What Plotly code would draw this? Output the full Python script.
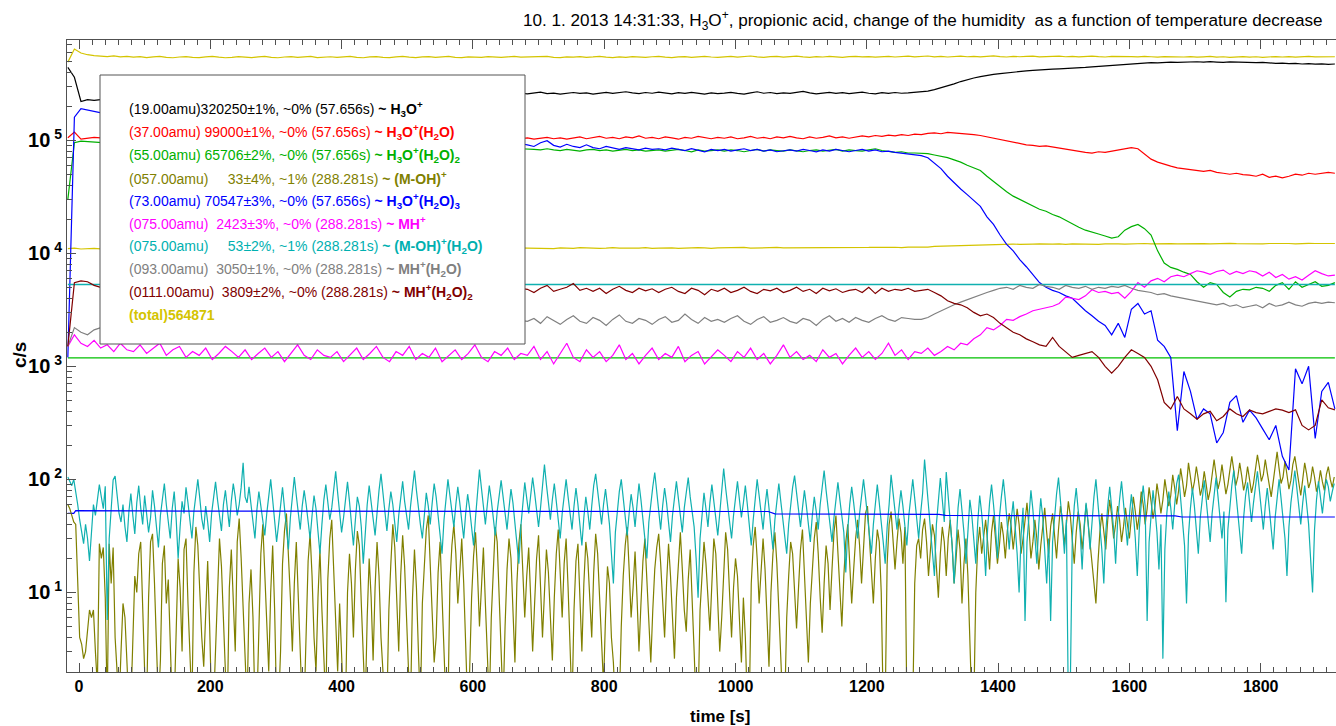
import plotly.graph_objects as go

# ---------------- data ----------------
main_t = list(range(-17, 1914, 10))     # sampling times of the smoother traces [s]
noisy_t = list(range(-17, 1914, 3))     # sampling times of the two weak, noisy traces [s]

total_cps = [
    490000, 640000, 590000, 570000, 560000, 552000, 548000, 556000, 545000, 550000,
    542000, 548000, 538000, 545000, 550000, 540000, 536000, 544000, 548000, 540000,
    538000, 545000, 550000, 542000, 536000, 540000, 548000, 543000, 538000, 546000,
    550000, 541000, 536000, 544000, 548000, 540000, 545000, 550000, 538000, 542000,
    547000, 539000, 543000, 551000, 540000, 536000, 545000, 548000, 541000, 538000,
    545000, 550000, 542000, 537000, 546000, 549000, 540000, 544000, 552000, 541000,
    538000, 546000, 543000, 540000, 548000, 544000, 539000, 545000, 550000, 542000,
    544000, 539000, 547000, 551000, 541000, 538000, 546000, 543000, 549000, 540000,
    545000, 552000, 543000, 538000, 546000, 541000, 548000, 544000, 539000, 547000,
    551000, 542000, 538000, 545000, 549000, 541000, 546000, 552000, 544000, 539000,
    546000, 550000, 543000, 547000, 555000, 545000, 540000, 548000, 551000, 543000,
    547000, 553000, 545000, 541000, 549000, 544000, 550000, 546000, 540000, 548000,
    552000, 545000, 549000, 543000, 547000, 551000, 544000, 548000, 553000, 546000,
    549000, 555000, 546000, 550000, 544000, 548000, 553000, 547000, 551000, 545000,
    550000, 556000, 548000, 544000, 552000, 547000, 551000, 554000, 546000, 550000,
    548000, 553000, 547000, 551000, 545000, 549000, 554000, 548000, 544000, 550000,
    552000, 546000, 549000, 545000, 551000, 547000, 543000, 549000, 545000, 548000,
    544000, 548000, 542000, 546000, 550000, 543000, 547000, 541000, 545000, 549000,
    543000, 547000, 541000, 545000, 549000, 544000, 548000, 542000, 546000, 550000,
    545000, 548000, 543000, 547000]

gold_low_cps = [
    11000, 11100, 10900, 11000, 11050, 10950, 11000, 11100, 10950, 11000,
    11050, 10950, 11100, 11000, 10900, 11050, 11000, 11100, 10950, 11050,
    11000, 11100, 10950, 11050, 11000, 10900, 11050, 11100, 11000, 10950,
    11100, 11000, 11050, 10950, 11100, 11000, 11050, 10950, 11100, 11000,
    11050, 11150, 11000, 11100, 11050, 10950, 11100, 11000, 11150, 11050,
    11000, 11100, 11150, 11050, 11000, 11100, 11050, 11150, 11000, 11100,
    11050, 11150, 11100, 11000, 11100, 11150, 11050, 11100, 11000, 11150,
    11100, 11050, 11150, 11100, 11000, 11150, 11100, 11050, 11200, 11100,
    11150, 11050, 11100, 11200, 11100, 11050, 11150, 11100, 11200, 11050,
    11100, 11200, 11150, 11050, 11150, 11100, 11200, 11150, 11050, 11150,
    11200, 11100, 11150, 11250, 11100, 11150, 11200, 11100, 11250, 11150,
    11150, 11250, 11200, 11100, 11200, 11150, 11250, 11200, 11150, 11250,
    11200, 11150, 11250, 11300, 11200, 11250, 11300, 11200, 11350, 11300,
    11400, 11350, 11500, 11550, 11600, 11700, 11750, 11800, 11850, 11900,
    11950, 11900, 12000, 11950, 12050, 12000, 11950, 12050, 12100, 12000,
    12050, 12100, 12000, 12100, 12050, 12150, 12100, 12000, 12100, 12150,
    12100, 12050, 12150, 12100, 12200, 12100, 12150, 12050, 12150, 12100,
    12150, 12100, 12200, 12150, 12100, 12200, 12150, 12250, 12150, 12100,
    12200, 12150, 12100, 12200, 12250, 12150, 12200, 12100, 12200, 12250,
    12200, 12150, 12250, 12200]

h3o_19 = [
    440000, 360000, 220000, 228000, 225000, 230000, 232000, 235000, 238000, 240000,
    238000, 242000, 240000, 245000, 243000, 247000, 245000, 248000, 246000, 250000,
    248000, 251000, 249000, 252000, 250000, 253000, 251000, 254000, 252000, 255000,
    253000, 256000, 254000, 257000, 255000, 258000, 256000, 258000, 257000, 259000,
    258000, 260000, 257000, 261000, 259000, 262000, 258000, 261000, 260000, 262000,
    259000, 263000, 260000, 262000, 258000, 261000, 263000, 259000, 262000, 260000,
    263000, 259000, 262000, 258000, 261000, 264000, 259000, 262000, 258000, 260000,
    257000, 262000, 266000, 258000, 261000, 255000, 260000, 264000, 259000, 262000,
    256000, 261000, 265000, 259000, 263000, 268000, 262000, 258000, 264000, 260000,
    266000, 261000, 257000, 263000, 259000, 265000, 260000, 256000, 262000, 258000,
    261000, 265000, 259000, 255000, 262000, 268000, 260000, 264000, 258000, 262000,
    259000, 263000, 270000, 262000, 257000, 261000, 265000, 259000, 263000, 258000,
    262000, 266000, 260000, 257000, 263000, 259000, 264000, 260000, 262000, 265000,
    268000, 272000, 280000, 290000, 302000, 315000, 330000, 345000, 355000, 365000,
    375000, 382000, 388000, 392000, 398000, 405000, 410000, 415000, 420000, 422000,
    425000, 428000, 430000, 435000, 438000, 440000, 445000, 450000, 455000, 460000,
    465000, 470000, 475000, 478000, 482000, 485000, 483000, 488000, 490000, 488000,
    492000, 489000, 494000, 490000, 495000, 491000, 488000, 493000, 490000, 494000,
    489000, 485000, 488000, 482000, 478000, 480000, 475000, 478000, 472000, 475000,
    470000, 473000, 468000, 472000]

h3o_h2o_37 = [
    105000, 118000, 102000, 104000, 106000, 105000, 104000, 106000, 105000, 107000,
    104000, 106000, 103000, 105000, 107000, 104000, 106000, 105000, 103000, 106000,
    106000, 104000, 107000, 105000, 103000, 106000, 104000, 105000, 107000, 104000,
    105000, 103000, 106000, 104000, 107000, 105000, 103000, 106000, 104000, 105000,
    107000, 104000, 106000, 103000, 105000, 107000, 104000, 106000, 105000, 103000,
    106000, 104000, 105000, 107000, 103000, 106000, 104000, 105000, 107000, 104000,
    105000, 107000, 103000, 106000, 104000, 105000, 107000, 104000, 106000, 103000,
    105000, 102000, 104000, 106000, 103000, 105000, 102000, 104000, 107000, 103000,
    105000, 108000, 104000, 106000, 103000, 107000, 105000, 109000, 104000, 106000,
    103000, 107000, 105000, 102000, 106000, 104000, 108000, 105000, 103000, 106000,
    104000, 107000, 103000, 105000, 108000, 104000, 106000, 103000, 107000, 105000,
    108000, 105000, 103000, 107000, 104000, 106000, 109000, 105000, 107000, 104000,
    106000, 109000, 107000, 110000, 108000, 111000, 109000, 112000, 110000, 113000,
    112000, 115000, 116000, 114000, 117000, 116000, 115000, 113000, 112000, 110000,
    107000, 105000, 102000, 99000, 96000, 93000, 91000, 90000, 88000, 89000,
    87000, 85000, 83000, 81000, 79000, 78000, 77000, 79000, 78000, 80000,
    81000, 83000, 86000, 84000, 76000, 68000, 64000, 61000, 59000, 57000,
    56000, 55000, 54000, 53000, 54000, 52000, 51000, 50000, 51000, 49500,
    49000, 48000, 50000, 47000, 48000, 46500, 48000, 50000, 49000, 51000,
    50000, 51000, 52000, 51000]

h3o_h2o2_55 = [
    30000, 95000, 98000, 97000, 96000, 95000, 94000, 93000, 93000, 92000,
    92000, 91000, 90000, 91000, 89000, 90000, 88000, 89000, 88000, 87000,
    88000, 87000, 86000, 87000, 86000, 85000, 86000, 85000, 84000, 85000,
    85000, 84000, 85000, 83000, 84000, 85000, 84000, 83000, 84000, 85000,
    84000, 83000, 85000, 84000, 83000, 84000, 85000, 83000, 84000, 83000,
    84000, 85000, 83000, 84000, 83000, 85000, 84000, 83000, 84000, 85000,
    83000, 84000, 85000, 83000, 84000, 83000, 85000, 84000, 83000, 84000,
    84000, 83000, 82000, 84000, 82000, 81000, 83000, 82000, 80000, 82000,
    83000, 81000, 82000, 80000, 82000, 83000, 81000, 82000, 80000, 81000,
    82000, 80000, 81000, 83000, 81000, 79000, 82000, 80000, 81000, 82000,
    80000, 82000, 81000, 79000, 81000, 83000, 80000, 82000, 81000, 80000,
    82000, 81000, 79000, 81000, 82000, 80000, 81000, 83000, 80000, 82000,
    81000, 80000, 82000, 84000, 81000, 79000, 78000, 79000, 77000, 77000,
    77000, 76000, 74000, 72000, 70000, 67000, 64000, 60000, 57000, 54000,
    48000, 43000, 39000, 35000, 32000, 30000, 28000, 26000, 24500, 23500,
    22000, 21000, 19500, 18000, 17000, 16000, 15500, 14800, 14200, 13600,
    14000, 16000, 17200, 18000, 16500, 14500, 10500, 8200, 7500, 7200,
    6800, 6500, 5600, 5000, 5500, 5300, 4500, 4100, 4600, 4800,
    4750, 5000, 4900, 4600, 5200, 5500, 4800, 5600, 5000, 5300,
    5600, 5100, 5200, 5500]

h3o_h2o3_73 = [
    1200, 160000, 190000, 185000, 180000, 175000, 170000, 160000, 150000, 140000,
    135000, 130000, 128000, 125000, 122000, 120000, 118000, 115000, 113000, 111000,
    110000, 108000, 107000, 105000, 104000, 103000, 101000, 100000, 99000, 98000,
    97000, 96000, 95000, 95000, 94000, 93000, 93000, 92000, 92000, 91000,
    91000, 90000, 90000, 89000, 89000, 90000, 89000, 88000, 89000, 88000,
    89000, 88000, 90000, 88000, 89000, 87000, 88000, 90000, 88000, 89000,
    88000, 90000, 89000, 91000, 88000, 90000, 92000, 89000, 91000, 93000,
    91000, 88000, 95000, 99000, 90000, 87000, 92000, 88000, 86000, 91000,
    86000, 84000, 88000, 85000, 83000, 86000, 84000, 82000, 85000, 83000,
    84000, 82000, 85000, 83000, 81000, 84000, 82000, 79000, 83000, 81000,
    83000, 80000, 82000, 84000, 81000, 83000, 80000, 82000, 79000, 81000,
    82000, 80000, 83000, 81000, 79000, 82000, 80000, 83000, 81000, 79000,
    81000, 83000, 80000, 82000, 79000, 80000, 78000, 77000, 76000, 74000,
    73000, 70000, 63000, 56000, 48000, 42000, 37000, 33000, 29000, 26000,
    21000, 18000, 14500, 12000, 10500, 8800, 7600, 6500, 5500, 5000,
    4700, 4500, 4200, 4000, 3500, 3100, 2800, 2500, 2300, 1900,
    2400, 1800, 3200, 3600, 2900, 3100, 1700, 1500, 1200, 270,
    900, 600, 340, 420, 380, 210, 260, 480, 550, 320,
    410, 350, 280, 224, 300, 160, 121, 950, 700, 1000,
    230, 600, 720, 420]

mh_75 = [
    1500, 1900, 1600, 1500, 1700, 1450, 1550, 1350, 1600, 1400,
    1350, 1550, 1300, 1450, 1600, 1250, 1400, 1500, 1200, 1350,
    1250, 1450, 1150, 1300, 1500, 1350, 1200, 1400, 1150, 1300,
    1450, 1200, 1350, 1100, 1300, 1550, 1250, 1150, 1400, 1250,
    1200, 1350, 1100, 1250, 1450, 1150, 1300, 1500, 1200, 1100,
    1350, 1250, 1500, 1150, 1300, 1200, 1450, 1100, 1250, 1400,
    1150, 1300, 1550, 1200, 1100, 1350, 1250, 1450, 1150, 1300,
    1250, 1500, 1150, 1350, 1050, 1300, 1600, 1200, 1100, 1400,
    1200, 1350, 1100, 1250, 1550, 1150, 1300, 1050, 1250, 1450,
    1150, 1300, 1200, 1500, 1100, 1250, 1350, 1050, 1200, 1400,
    1250, 1100, 1350, 1200, 1450, 1150, 1300, 1050, 1250, 1550,
    1200, 1350, 1150, 1250, 1100, 1400, 1200, 1300, 1050, 1250,
    1450, 1200, 1350, 1150, 1300, 1600, 1250, 1400, 1150, 1350,
    1300, 1450, 1250, 1350, 1500, 1400, 1600, 1550, 1750, 1900,
    2200, 2100, 2300, 2600, 2550, 2750, 2900, 3100, 3200, 3300,
    3400, 3600, 4100, 4000, 3900, 4200, 4750, 4500, 4600, 4400,
    4500, 4000, 4600, 5500, 5000, 5700, 6000, 5600, 6200, 6400,
    6200, 6600, 7000, 6800, 6500, 6900, 7100, 6500, 6900, 6600,
    7000, 6800, 6300, 6800, 6100, 6500, 5900, 6200, 5800, 6400,
    7000, 6600, 6300, 6400]

mh_h2o_93 = [
    1500, 2200, 2000, 1900, 2100, 2200, 2300, 2400, 2400, 2500,
    2200, 2300, 2250, 2400, 2350, 2450, 2400, 2500, 2450, 2500,
    2550, 2450, 2600, 2500, 2550, 2480, 2600, 2520, 2580, 2500,
    2600, 2500, 2550, 2650, 2480, 2580, 2520, 2620, 2500, 2560,
    2540, 2620, 2480, 2580, 2650, 2500, 2560, 2610, 2490, 2570,
    2620, 2510, 2580, 2480, 2600, 2550, 2640, 2500, 2570, 2530,
    2590, 2480, 2620, 2540, 2500, 2650, 2560, 2470, 2600, 2550,
    2500, 2650, 2400, 2750, 2550, 2350, 2600, 2800, 2500, 2400,
    2700, 2550, 2300, 2600, 2850, 2500, 2400, 2650, 2550, 2350,
    2600, 2750, 2450, 2550, 2900, 2600, 2400, 2700, 2500, 2600,
    2450, 2650, 2800, 2500, 2350, 2600, 2750, 2450, 2550, 2700,
    2500, 2400, 2650, 2550, 2300, 2600, 2800, 2500, 2650, 2450,
    2700, 2550, 2450, 2650, 2800, 2600, 2500, 2700, 2650, 2600,
    2600, 2700, 2900, 3100, 3300, 3500, 3700, 3900, 4100, 4300,
    4500, 4700, 4900, 5000, 4800, 5200, 5000, 4900, 5300, 5100,
    5000, 4800, 5200, 5000, 4900, 5100, 4800, 5000, 4900, 5100,
    5000, 5200, 4900, 4700, 4600, 4500, 4300, 4400, 4200, 4100,
    4000, 3900, 3800, 3700, 3600, 3500, 3600, 3400, 3500, 3300,
    3400, 3500, 3300, 3600, 3400, 3500, 3700, 3500, 3400, 3600,
    3700, 3600, 3700, 3650]

mh_h2o2_111 = [
    1500, 5500, 5700, 5600, 5200, 5000, 4900, 4800, 4800, 4900,
    4900, 5000, 4800, 4900, 5100, 4800, 4900, 5000, 4850, 4950,
    4800, 4950, 4750, 5000, 4850, 4700, 4900, 5050, 4800, 4900,
    4750, 4950, 4850, 5000, 4700, 4900, 4800, 5050, 4850, 4750,
    4900, 4800, 5000, 4750, 4950, 4850, 4700, 4900, 5000, 4800,
    4850, 5000, 4750, 4900, 4800, 5050, 4850, 4700, 4950, 4850,
    4900, 4750, 4950, 4800, 5000, 4850, 4700, 4950, 4800, 4900,
    4800, 4500, 4900, 5200, 4600, 4800, 5000, 5400, 4700, 4900,
    4600, 4900, 4400, 4800, 5100, 4700, 4500, 4900, 4650, 4850,
    4500, 4800, 5000, 4600, 4400, 4900, 4700, 4300, 4800, 4600,
    4900, 4500, 4700, 5000, 4600, 4400, 4800, 4650, 4900, 4500,
    4700, 5000, 4600, 4800, 4400, 4900, 4650, 4850, 4500, 4700,
    4800, 4500, 5000, 4400, 4900, 4600, 4800, 4700, 4900, 4600,
    4700, 4800, 4500, 4200, 3800, 3600, 3500, 3300, 3000, 2800,
    2900, 2700, 2400, 2200, 2000, 1900, 1750, 1650, 1550, 1500,
    1800, 1500, 1350, 1200, 1250, 1300, 1350, 1200, 1000, 870,
    1000, 1200, 1400, 1300, 1200, 1000, 760, 480, 420, 540,
    420, 380, 340, 380, 400, 330, 360, 420, 380, 360,
    412, 390, 380, 400, 420, 410, 390, 412, 300, 274,
    300, 506, 430, 412]

m_oh_57 = [
    60, 55, 48, 42, 40, 15, 4, 3.5, 2.6, 3, 5, 7, 6, 7, 3, 1.5, 27, 20, 25, 9,
    1, 27, 12, 25, 4, 2, 1, 3, 8, 6, 2.5, 1, 1, 5, 14, 10, 22, 28, 6, 2,
    1, 9, 28, 33, 12, 3, 1, 2.5, 18, 26, 8, 13, 4, 1, 1, 6, 20, 11, 3, 24,
    30, 8, 2, 1, 15, 38, 26, 10, 4, 2.2, 7, 19, 5, 1, 1, 3, 12, 30, 17, 5,
    2, 1, 11, 24, 9, 3, 28, 45, 20, 6, 2.5, 1, 8, 16, 6, 1, 1, 4, 22, 40,
    14, 5, 2, 10, 26, 7, 1, 1, 3, 18, 35, 50, 22, 9, 3, 12, 28, 11, 4, 1,
    1, 6, 19, 33, 14, 4, 2, 9, 24, 7, 2.4, 1, 13, 30, 44, 16, 5, 2, 8, 3,
    1, 1, 10, 22, 12, 4, 16, 35, 26, 8, 3, 1, 6, 20, 9, 2.5, 11, 28, 14, 4,
    2, 1, 1, 7, 18, 40, 25, 10, 3, 14, 32, 17, 5, 2, 1, 9, 24, 11, 3, 1,
    8, 20, 36, 48, 19, 6, 2.4, 4, 15, 28, 10, 3, 1, 1, 12, 26, 40, 22, 8, 15,
    30, 12, 4, 1, 2, 9, 21, 34, 15, 5, 11, 25, 8, 2.6, 1, 6, 18, 38, 28, 9,
    3, 1, 5, 16, 30, 20, 7, 2.4, 12, 27, 40, 18, 6, 14, 25, 9, 3, 8, 20, 32,
    12, 4, 10, 24, 15, 5, 2.5, 9, 22, 36, 14, 6, 18, 30, 11, 4, 1, 7, 19, 27,
    10, 3, 12, 28, 20, 8, 4, 15, 33, 22, 9, 3, 1.5, 6, 17, 12, 4, 2.4, 1, 1,
    1, 5, 14, 26, 38, 16, 6, 11, 23, 9, 3, 8, 19, 30, 14, 5, 2.4, 7, 16, 25,
    33, 18, 8, 4, 12, 27, 14, 5, 2.6, 9, 20, 34, 16, 7, 4.5, 13, 24, 10, 3, 1,
    1, 7, 15, 28, 18, 8, 4.6, 12, 30, 22, 9, 3, 6, 16, 34, 24, 10, 4, 11, 20,
    14, 5, 2.4, 9, 4, 1, 1, 12, 26, 38, 20, 8, 15, 30, 16, 6, 2.2, 10, 22, 34,
    18, 7, 3, 1, 1, 6, 14, 28, 22, 9, 4.8, 11, 24, 36, 15, 5, 2.4, 8, 18, 30,
    42, 22, 9, 4.4, 12, 26, 18, 7, 16, 34, 48, 24, 10, 5, 14, 28, 40, 20, 8, 16,
    30, 44, 26, 12, 22, 50, 58, 32, 15, 8, 20, 36, 28, 10, 1, 1, 18, 40, 52, 30,
    16, 28, 45, 34, 18, 38, 1, 1, 1, 1, 12, 26, 30, 20, 36, 45, 28, 14, 24, 40,
    32, 18, 9, 22, 38, 28, 14, 30, 44, 26, 12, 20, 36, 24, 8, 18, 30, 14, 4, 1,
    1, 10, 26, 38, 22, 30, 44, 28, 16, 34, 48, 30, 18, 26, 42, 32, 20, 35, 50, 38,
    24, 36, 55, 40, 22, 30, 46, 62, 38, 20, 28, 44, 30, 16, 26, 40, 56, 34, 22, 38,
    50, 32, 20, 36, 58, 44, 26, 40, 64, 48, 30, 18, 34, 52, 40, 24, 36, 60, 42, 28,
    20, 12, 8, 18, 34, 50, 36, 24, 44, 66, 48, 30, 40, 58, 44, 28, 38, 56, 40, 30,
    46, 70, 52, 36, 48, 78, 60, 40, 55, 85, 64, 45, 58, 92, 70, 50, 66, 100, 76, 58,
    72, 110, 84, 60, 80, 125, 96, 70, 88, 140, 105, 78, 95, 130, 100, 72, 85, 118, 90, 66,
    80, 115, 150, 110, 82, 98, 135, 100, 74, 90, 125, 160, 120, 88, 104, 140, 108, 80, 95, 130,
    100, 76, 92, 128, 165, 130, 96, 110, 150, 115, 85, 70, 95, 135, 175, 125, 92, 105, 145, 110,
    82, 98, 136, 160, 118, 88, 72, 100, 140, 112, 84, 96, 130, 105, 78, 90, 120, 95, 80, 110,
    130, 100, 85, 105]

m_oh_h2o_75 = [
    105, 95, 88, 100, 80, 60, 44, 35, 27, 40, 30, 19, 35, 60, 48, 64, 90, 70, 55, 87,
    5.7, 30, 55, 99, 107, 70, 50, 42, 60, 38, 28, 52, 75, 48, 33, 62, 88, 56, 40, 72,
    50, 34, 46, 80, 58, 36, 25, 48, 66, 92, 60, 40, 30, 55, 78, 45, 20, 38, 64, 50,
    85, 62, 44, 30, 52, 76, 100, 68, 45, 36, 58, 42, 28, 50, 72, 95, 66, 48, 35, 60,
    80, 55, 38, 64, 92, 70, 48, 60, 85, 140, 70, 62, 86, 60, 42, 30, 54, 78, 58, 44,
    32, 50, 74, 100, 66, 45, 28, 40, 62, 85, 56, 38, 24, 46, 70, 105, 72, 50, 36, 58,
    80, 60, 42, 30, 48, 72, 55, 36, 22, 40, 66, 90, 62, 44, 56, 82, 118, 76, 50, 34,
    46, 68, 95, 64, 40, 26, 44, 70, 58, 38, 18, 36, 60, 88, 66, 45, 32, 52, 80, 112,
    74, 50, 35, 55, 78, 60, 42, 28, 48, 72, 96, 64, 46, 36, 58, 84, 120, 80, 54, 40,
    30, 52, 76, 58, 40, 62, 92, 70, 48, 34, 22, 44, 68, 100, 72, 50, 38, 60, 86, 62,
    44, 30, 50, 74, 55, 38, 26, 46, 80, 122, 84, 56, 40, 60, 88, 66, 46, 32, 52, 76,
    98, 70, 48, 36, 56, 82, 62, 42, 28, 18, 38, 62, 94, 68, 50, 72, 104, 76, 52, 38,
    56, 84, 135, 90, 60, 44, 66, 92, 64, 46, 30, 50, 72, 100, 70, 48, 36, 58, 84, 60,
    42, 26, 46, 70, 52, 36, 58, 88, 112, 76, 52, 40, 60, 82, 58, 40, 22, 12, 34, 56,
    78, 100, 68, 48, 32, 50, 74, 56, 38, 60, 92, 66, 46, 30, 20, 42, 64, 86, 115, 74,
    52, 36, 58, 84, 62, 44, 28, 48, 70, 96, 68, 48, 34, 56, 80, 104, 70, 50, 38, 20,
    9, 30, 52, 76, 55, 38, 62, 90, 64, 46, 32, 50, 78, 125, 84, 58, 42, 30, 48, 70,
    96, 66, 46, 62, 88, 60, 40, 26, 44, 66, 100, 72, 50, 36, 58, 82, 56, 38, 24, 44,
    68, 92, 64, 46, 30, 22, 40, 60, 85, 108, 74, 52, 38, 56, 80, 58, 40, 28, 48, 70,
    52, 36, 60, 88, 120, 80, 56, 40, 28, 46, 68, 94, 66, 48, 34, 15, 36, 60, 86, 62,
    44, 30, 50, 74, 100, 70, 48, 34, 22, 40, 64, 90, 62, 44, 28, 18, 38, 60, 110, 76,
    52, 36, 56, 80, 58, 40, 26, 48, 72, 100, 68, 46, 30, 50, 75, 150, 96, 62, 40, 24,
    14, 40, 70, 103, 66, 42, 116, 70, 44, 26, 12, 30, 56, 82, 54, 34, 18, 40, 66, 48,
    30, 18, 42, 72, 50, 30, 14, 36, 62, 90, 60, 38, 20, 46, 70, 100, 66, 40, 24, 44,
    64, 38, 22, 10, 32, 56, 5.6, 28, 52, 80, 54, 34, 18, 40, 68, 46, 26, 12, 30, 5.6,
    28, 50, 74, 104, 66, 40, 22, 44, 1, 1.5, 30, 58, 84, 56, 34, 16, 38, 62, 42, 24,
    46, 70, 100, 64, 40, 24, 12, 34, 58, 86, 56, 36, 18, 42, 66, 96, 62, 40, 26, 48,
    74, 50, 30, 14, 36, 60, 88, 58, 5.6, 28, 52, 80, 54, 34, 16, 40, 2.6, 24, 50, 78,
    56, 36, 60, 92, 110, 70, 44, 26, 8, 32, 56, 84, 58, 38, 22, 46, 72, 98, 66, 42,
    28, 50, 76, 104, 70, 46, 30, 52, 8.2, 36, 60, 88, 120, 80, 54, 36, 22, 46, 72, 94,
    64, 42, 62, 90, 118, 80, 54, 36, 58, 84, 56, 38, 24, 46, 70, 100, 68, 44, 30, 14,
    38, 62, 92, 120, 84, 58, 40, 62, 88, 60, 40, 20, 10, 36, 66, 96, 70, 50, 74, 100,
    86, 64, 78, 92]

# nearly constant reference traces
flat_t = [-17, 1913]
flat_teal_cps = [5300, 5300]
flat_green_cps = [1190, 1190]
flat_blue_t = [-17, -8, -5, 160, 170, 1050, 1060, 1310, 1320, 1670, 1680, 1913]
flat_blue_cps = [50, 50, 53, 53, 52.5, 52, 49.5, 49, 48, 47.5, 46.5, 46.5]

x_tick_step = 200
y_tick_vals = [10, 100, 1000, 10000, 100000]
y_tick_text = ["10<sup> 1</sup>", "10<sup> 2</sup>", "10<sup> 3</sup>", "10<sup> 4</sup>", "10<sup> 5</sup>"]

legend_lines = [
    ("(19.00amu)320250±1%, ~0% (57.656s) <b>~ H<sub>3</sub>O<sup>+</sup></b>", "#000000"),
    ("(37.00amu) 99000±1%, ~0% (57.656s) <b>~ H<sub>3</sub>O<sup>+</sup>(H<sub>2</sub>O)</b>", "#ff0000"),
    ("(55.00amu) 65706±2%, ~0% (57.656s) <b>~ H<sub>3</sub>O<sup>+</sup>(H<sub>2</sub>O)<sub>2</sub></b>", "#00b000"),
    ("(057.00amu)\u00a0\u00a0\u00a0\u00a0 33±4%, ~1% (288.281s) <b>~ (M-OH)<sup>+</sup></b>", "#808000"),
    ("(73.00amu) 70547±3%, ~0% (57.656s) <b>~ H<sub>3</sub>O<sup>+</sup>(H<sub>2</sub>O)<sub>3</sub></b>", "#0000ff"),
    ("(075.00amu)\u00a0 2423±3%, ~0% (288.281s) <b>~ MH<sup>+</sup></b>", "#ff00ff"),
    ("(075.00amu)\u00a0\u00a0\u00a0\u00a0 53±2%, ~1% (288.281s) <b>~ (M-OH)<sup>+</sup>(H<sub>2</sub>O)</b>", "#00b0b0"),
    ("(093.00amu)\u00a0 3050±1%, ~0% (288.281s) <b>~ MH<sup>+</sup>(H<sub>2</sub>O)</b>", "#808080"),
    ("(0111.00amu)\u00a0 3809±2%, ~0% (288.281s) <b>~ MH<sup>+</sup>(H<sub>2</sub>O)<sub>2</sub></b>", "#800000"),
    ("<b>(total)564871</b>", "#d4c400"),
]

title_text = ("10. 1. 2013 14:31:33, H<sub>3</sub>O<sup>+</sup>, propionic acid, change of the humidity"
              "\u00a0 as a function of temperature decrease")

# ---------------- figure ----------------
W, H = 1336, 726
L, R, T, B = 67, 0, 40, 54
PW, PH = W - L - R, H - T - B
FONT = "Liberation Sans, Arial, sans-serif"


def px(xp):
    return (xp - L) / PW


def py(yp):
    return (H - B - yp) / PH


fig = go.Figure()


def add(x, y, color, width=1.2):
    fig.add_trace(go.Scatter(x=x, y=y, mode="lines", line=dict(color=color, width=width),
                             hoverinfo="skip", showlegend=False))


add(main_t, total_cps, "#d4c400")
add(main_t, gold_low_cps, "#d4c400")
add(main_t, h3o_19, "#000000")
add(main_t, h3o_h2o_37, "#ff0000")
add(noisy_t, m_oh_57, "#808000")
add(noisy_t, m_oh_h2o_75, "#10b0b0")
add(flat_blue_t, flat_blue_cps, "#0000ff")
add(main_t, h3o_h2o2_55, "#00b000")
add(flat_t, flat_green_cps, "#00c000")
add(main_t, h3o_h2o3_73, "#0000ff")
add(main_t, mh_75, "#ff00ff")
add(flat_t, flat_teal_cps, "#10b0b0", 1.5)
add(main_t, mh_h2o_93, "#808080")
add(main_t, mh_h2o2_111, "#800000")

x0 = (L - 79) / 0.6565
x1 = x0 + PW / 0.6565

fig.update_layout(
    width=W, height=H, margin=dict(l=L, r=R, t=T, b=B),
    paper_bgcolor="white", plot_bgcolor="white", showlegend=False,
    font=dict(family=FONT, color="black"),
)

axis_col = "#505050"
fig.update_xaxes(
    range=[x0, x1], showline=True, linecolor=axis_col, linewidth=1, mirror="ticks",
    ticks="inside", ticklen=9, tickwidth=1, tickcolor=axis_col,
    tick0=0, dtick=x_tick_step, showgrid=False, zeroline=False,
    tickfont=dict(family=FONT, size=16, color="black", weight="bold"),
    minor=dict(tick0=0, dtick=20, ticks="inside", ticklen=5, tickcolor=axis_col, showgrid=False),
)

minor_y = [m * 10 ** e for e in range(0, 6) for m in range(2, 10)]
fig.update_yaxes(
    type="log", range=[0.2967, 5.886], showline=True, linecolor=axis_col, linewidth=1,
    ticks="inside", ticklen=9, tickwidth=1, tickcolor=axis_col,
    tickvals=y_tick_vals, ticktext=y_tick_text, showgrid=False, zeroline=False,
    tickfont=dict(family=FONT, size=20, color="black", weight="bold"),
    minor=dict(tickvals=minor_y, ticks="inside", ticklen=5, tickcolor=axis_col, showgrid=False),
)

# legend box
fig.add_shape(type="rect", xref="paper", yref="paper",
              x0=px(100), x1=px(525), y0=py(344), y1=py(75),
              line=dict(color="#555555", width=1), fillcolor="white", layer="above")

line_y = [109, 132, 155, 178, 201, 223, 246, 269, 292, 315]
for (txt, col), yc in zip(legend_lines, line_y):
    fig.add_annotation(xref="paper", yref="paper", x=px(127), y=py(yc), text=txt,
                       showarrow=False, xanchor="left", yanchor="middle",
                       font=dict(family=FONT, size=14, color=col))

# title
fig.add_annotation(xref="paper", yref="paper", x=px(521), y=py(20), text=title_text,
                   showarrow=False, xanchor="left", yanchor="middle",
                   font=dict(family="Liberation Sans, Arial", size=17.1, color="black"))

# axis titles
fig.add_annotation(xref="paper", yref="paper", x=px(720), y=py(716), text="<b>time [s]</b>",
                   showarrow=False, xanchor="center", yanchor="middle",
                   font=dict(family=FONT, size=17, color="black"))
fig.add_annotation(xref="paper", yref="paper", x=px(19), y=py(355), text="<b>c/s</b>",
                   showarrow=False, textangle=-90, xanchor="center", yanchor="middle",
                   font=dict(family=FONT, size=19, color="black"))

fig.write_html("out.html", config={"displayModeBar": False})
